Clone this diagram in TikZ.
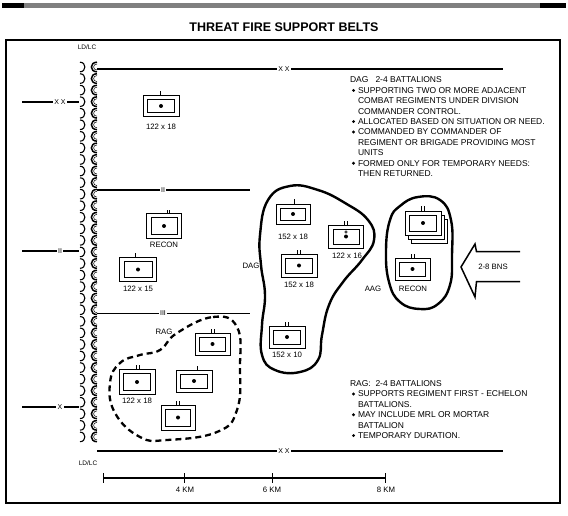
\documentclass[tikz,border=0pt]{standalone}
\usepackage{fontspec}
\setmainfont{Liberation Sans}
\begin{document}
\begin{tikzpicture}[x=1pt,y=-1pt,
  every node/.style={inner sep=0pt, outer sep=0pt},
  bt/.style={font=\fontsize{8.5}{10.4}\selectfont, anchor=north west, align=left},
  lab/.style={font=\fontsize{7.8}{9}\selectfont},
  bnd/.style={fill=white, inner sep=1.5pt, font=\fontsize{7}{8}\selectfont},
  unitbox/.style={draw, fill=white, line width=0.8pt, minimum width=36pt, minimum height=22pt,
    path picture={
      \draw[black, line width=0.6pt] ([xshift=4.5pt,yshift=4pt]path picture bounding box.south west)
        rectangle ([xshift=-4.5pt,yshift=-4pt]path picture bounding box.north east);
      \fill[black] (path picture bounding box.center) circle (2pt);}},
  backbox/.style={draw, fill=white, line width=0.8pt, minimum width=36pt, minimum height=24pt},
  tickline/.style={line width=0.7pt},
  blob/.style={line width=2.4pt, line join=round},
  ragblob/.style={line width=2.3pt, dash pattern=on 6pt off 4pt},
  heavy/.style={line width=2.4pt},
  ldl/.style={line width=1.1pt},
  ldr/.style={line width=1.5pt}]
\useasboundingbox (0,0) rectangle (568,516);

% top band
\fill[black!50] (2,3) rectangle (566,8);
\fill[black] (2,3) rectangle (24,8);
\fill[black] (540,3) rectangle (566,8);

% title
\node[font=\fontsize{12.5}{14}\selectfont\bfseries] (title) at (284,27) {THREAT FIRE SUPPORT BELTS};

% frame
\draw[line width=1.2pt] (6,40) rectangle (560,503);
\draw[line width=2pt] (6,40) -- (560,40);

% LD/LC column
\foreach \i in {0,...,32}{
  \pgfmathsetmacro\yy{67+11.56*\i}
  \draw[ldl] (80,\yy-4.8) .. controls (86.5,\yy-4.8) and (86.5,\yy+4.8) .. (80,\yy+4.8);
  \draw[ldr] (97,\yy-4.8) .. controls (89.5,\yy-4.8) and (89.5,\yy+4.8) .. (97,\yy+4.8);
  \draw[line width=0.5pt] (97,\yy-3) .. controls (92.5,\yy-3) and (92.5,\yy+3) .. (97,\yy+3);
}
\node[font=\fontsize{6.5}{8}\selectfont] (ldtop) at (87,47) {LD/LC};
\node[font=\fontsize{6.5}{8}\selectfont] (ldbot) at (88,463) {LD/LC};

% boundary lines
\coordinate (t1) at (97,69); \coordinate (t2) at (503,69);
\draw[heavy] (t1) -- (t2);
\node[bnd] (tx) at (284,69) {X X};
\coordinate (b1) at (97,451); \coordinate (b2) at (503,451);
\draw[heavy] (b1) -- (b2);
\node[bnd] (bx) at (284,451) {X X};
\coordinate (m1) at (97,190); \coordinate (m2) at (250,190);
\draw[line width=1.8pt] (m1) -- (m2);
\node[bnd] (mx) at (163,190) {II};
\coordinate (n1) at (97,313); \coordinate (n2) at (250,313);
\draw[line width=0.8pt] (n1) -- (n2);
\node[bnd] (nx) at (163,313) {III};
\coordinate (l1a) at (22,102); \coordinate (l1b) at (79,102);
\draw[line width=1.3pt] (l1a) -- (l1b);
\node[bnd] (l1x) at (60,102) {X X};
\coordinate (l2a) at (22,251); \coordinate (l2b) at (79,251);
\draw[line width=1.3pt] (l2a) -- (l2b);
\node[bnd] (l2x) at (60,251) {II};
\coordinate (l3a) at (22,407); \coordinate (l3b) at (79,407);
\draw[line width=1.3pt] (l3a) -- (l3b);
\node[bnd] (l3x) at (60,407) {X};

% blobs
\draw[blob] plot[smooth cycle, tension=0.75] coordinates {(268,200) (290,186) (318,190) (345,203) (368,220) (374,240) (362,260) (343,282) (329,305) (322,335) (318,360) (300,372) (275,370) (262,355) (262,325) (265,295) (261,265) (260,235)};
\draw[blob] plot[smooth cycle, tension=0.75] coordinates {(400,206) (418,197) (440,200) (451,220) (452,255) (450,285) (438,304) (420,309) (400,302) (389,282) (386,250) (390,220)};
\draw[ragblob] plot[smooth cycle, tension=0.75] coordinates {(177,333) (213,317) (237,327) (240,367) (237,410) (217,432) (167,440) (140,437) (115,413) (110,383) (120,363) (140,355) (160,350)};

\node[lab] (daglab) at (251,266) {DAG};
\node[lab] (aaglab) at (373,289) {AAG};
\node[lab] (raglab) at (164,332) {RAG};

% units
\node[unitbox, minimum width=36pt, minimum height=21pt] (u1) at (161,106) {};
\draw[tickline] (u1.north) ++(-1pt,0pt) -- ++(0pt,4.5pt);
\node[lab] (u1l) at (161,127) {122 x 18};

\node[unitbox, minimum width=35pt, minimum height=25pt] (u2) at (164,226) {};
\draw[tickline] (u2.north) ++(3pt,0pt) -- ++(0pt,3pt);
\draw[tickline] (u2.north) ++(5.5pt,0pt) -- ++(0pt,3pt);
\node[lab] (u2l) at (164,245) {RECON};

\node[unitbox, minimum width=37pt, minimum height=24pt] (u3) at (138,269.5) {};
\draw[tickline] (u3.north) ++(-3pt,0pt) -- ++(0pt,4.5pt);
\node[lab] (u3l) at (138,289) {122 x 15};

\node[unitbox, minimum width=34pt, minimum height=20pt] (u4) at (293,214) {};
\draw[tickline] (u4.north) ++(1pt,0pt) -- ++(0pt,4.5pt);
\node[lab] (u4l) at (293,237) {152 x 18};

\node[unitbox, minimum width=35pt, minimum height=23pt] (u5) at (346,236.5) {};
\draw[black, line width=0.6pt] ([yshift=4.5pt]u5.center) circle (1.3pt);
\draw[tickline] (u5.north) ++(-1.5pt,0pt) -- ++(0pt,4.5pt);
\draw[tickline] (u5.north) ++(1.5pt,0pt) -- ++(0pt,4.5pt);
\node[lab] (u5l) at (347,256) {122 x 16};

\node[unitbox, minimum width=36pt, minimum height=23pt] (u6) at (299,265.5) {};
\draw[tickline] (u6.north) ++(-1.5pt,0pt) -- ++(0pt,4.5pt);
\draw[tickline] (u6.north) ++(1.5pt,0pt) -- ++(0pt,4.5pt);
\node[lab] (u6l) at (299,285) {152 x 18};

\node[unitbox, minimum width=36pt, minimum height=22pt] (u7) at (287,337) {};
\draw[tickline] (u7.north) ++(-1.5pt,0pt) -- ++(0pt,4.5pt);
\draw[tickline] (u7.north) ++(1.5pt,0pt) -- ++(0pt,4.5pt);
\node[lab] (u7l) at (287,355) {152 x 10};

% AAG units
\node[backbox] (u8c) at (429,231) {};
\node[backbox] (u8b) at (426,227) {};
\node[unitbox, minimum width=36pt, minimum height=24pt] (u8) at (423,223) {};
\draw[tickline] (u8.north) ++(-1.5pt,0pt) -- ++(0pt,4.5pt);
\draw[tickline] (u8.north) ++(1.5pt,0pt) -- ++(0pt,4.5pt);

\node[unitbox, minimum width=35pt, minimum height=22pt] (u9) at (412.5,269) {};
\draw[tickline] (u9.north) ++(-1.5pt,0pt) -- ++(0pt,4.5pt);
\draw[tickline] (u9.north) ++(1.5pt,0pt) -- ++(0pt,4.5pt);
\node[lab] (u9l) at (413,289) {RECON};

% RAG units
\node[unitbox, minimum width=35pt, minimum height=22pt] (u10) at (212.5,344) {};
\draw[tickline] (u10.north) ++(-1.5pt,0pt) -- ++(0pt,4.5pt);
\draw[tickline] (u10.north) ++(1.5pt,0pt) -- ++(0pt,4.5pt);

\node[unitbox, minimum width=36pt, minimum height=25pt] (u11) at (137,382) {};
\draw[tickline] (u11.north) ++(-0.5pt,0pt) -- ++(0pt,4.5pt);
\draw[tickline] (u11.north) ++(2.5pt,0pt) -- ++(0pt,4.5pt);
\node[lab] (u11l) at (137,401) {122 x 18};

\node[unitbox, minimum width=36pt, minimum height=22pt] (u12) at (194,381) {};
\draw[tickline] (u12.north) ++(3pt,0pt) -- ++(0pt,4.5pt);

\node[unitbox, minimum width=34pt, minimum height=25pt] (u13) at (178,417.5) {};
\draw[tickline] (u13.north) ++(-1.5pt,0pt) -- ++(0pt,4.5pt);
\draw[tickline] (u13.north) ++(1.5pt,0pt) -- ++(0pt,4.5pt);

% arrow
\coordinate (a1) at (520,251.7); \coordinate (a2) at (476.5,251.7); \coordinate (a3) at (475,244);
\coordinate (a4) at (461,267); \coordinate (a5) at (475,297); \coordinate (a6) at (476.5,281.5); \coordinate (a7) at (520,281.5);
\draw[line width=1.5pt, line join=miter] (a1) -- (a2) -- (a3) -- (a4) -- (a5) -- (a6) -- (a7);
\node[lab] (bns) at (493,267) {2-8 BNS};

% DAG text
\node[bt] (dag0) at (350,77) {DAG\ \ \ 2-4 BATTALIONS};
\node[bt] (dag1) at (358,87.4) {SUPPORTING TWO OR MORE ADJACENT\\COMBAT REGIMENTS UNDER DIVISION\\COMMANDER CONTROL.};
\node[bt] (dag2) at (358,118.6) {ALLOCATED BASED ON SITUATION OR NEED.};
\node[bt] (dag3) at (358,129) {COMMANDED BY COMMANDER OF\\REGIMENT OR BRIGADE PROVIDING MOST\\UNITS};
\node[bt] (dag4) at (358,160.2) {FORMED ONLY FOR TEMPORARY NEEDS:\\THEN RETURNED.};
\foreach \yb in {90.4,121.6,132,163.2} \fill (353.5,\yb) circle (1.6pt);

% RAG text
\node[bt] (rag0) at (350,381) {RAG:\ \ 2-4 BATTALIONS};
\node[bt] (rag1) at (358,391) {SUPPORTS REGIMENT FIRST - ECHELON\\BATTALIONS.};
\node[bt] (rag2) at (358,411.8) {MAY INCLUDE MRL OR MORTAR\\BATTALION};
\node[bt] (rag3) at (358,432.6) {TEMPORARY DURATION.};
\foreach \yb in {394,414.8,435.6} \fill (353.5,\yb) circle (1.6pt);

% scale
\coordinate (s0) at (103,478); \coordinate (s1) at (184,478);
\coordinate (s2) at (272,478); \coordinate (s3) at (385,478);
\draw[line width=2.2pt] (s0) -- (s3);
\foreach \p in {s0,s1,s2,s3} \draw[line width=1pt] ([yshift=5pt]\p) -- ([yshift=-5pt]\p);
\node[lab] (k4) at (185,490) {4 KM};
\node[lab] (k6) at (272,490) {6 KM};
\node[lab] (k8) at (386,490) {8 KM};
\end{tikzpicture}
\end{document}
